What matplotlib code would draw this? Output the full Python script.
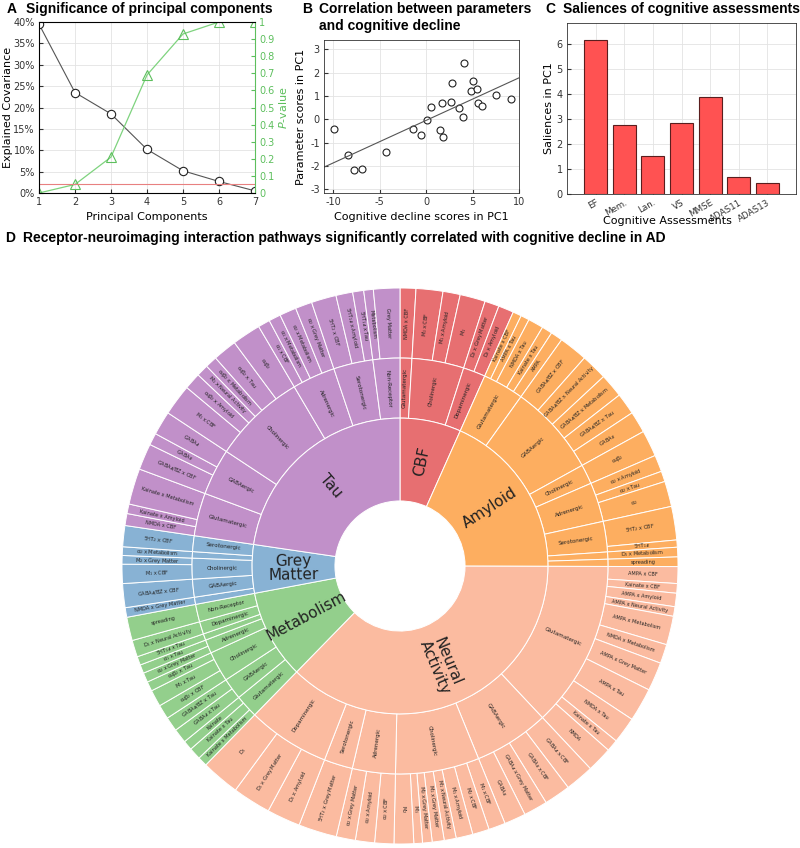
import numpy as np
import matplotlib.pyplot as plt
from matplotlib.patches import Wedge
from matplotlib.ticker import PercentFormatter

plt.rcParams['font.family'] = 'DejaVu Sans'
plt.rcParams['mathtext.fontset'] = 'dejavusans'
plt.rcParams['axes.unicode_minus'] = False

# ---- panel A data
pcs = [1, 2, 3, 4, 5, 6, 7]
expl_cov = [39.5, 23.5, 18.5, 10.2, 5.2, 2.7, 0.5]
p_values = [0.0, 0.05, 0.21, 0.69, 0.93, 1.0, 1.0]
p_thresh = 0.05

# ---- panel B data
cog_scores = [-9.9, -8.4, -7.75, -6.95, -4.35, -1.4, -0.55, 0.05, 0.55, 1.45, 1.7, 1.85,
              2.65, 2.8, 3.5, 3.95, 4.1, 4.85, 5.1, 5.5, 5.6, 6.0, 7.5, 9.1]
param_scores = [-0.41, -1.53, -2.16, -2.12, -1.39, -0.41, -0.68, -0.03, 0.52, -0.47, 0.71, -0.75,
                0.76, 1.57, 0.47, 0.1, 2.4, 1.2, 1.63, 1.3, 0.69, 0.59, 1.06, 0.88]

# ---- panel C data
assessments = ["EF", "Mem.", "Lan.", "VS", "MMSE", "ADAS11", "ADAS13"]
saliences = [6.15, 2.77, 1.53, 2.83, 3.88, 0.68, 0.44]

# ---- panel D data: (receptor system, pathway, weight), clockwise from 12 o'clock
modalities = ["CBF", "Amyloid", "Neural\nActivity", "Metabolism", "Grey\nMatter", "Tau"]
mod_colors = ["#E76F71", "#FDAE60", "#FBBBA0", "#93CF8C", "#88B2D4", "#C190C9"]

cbf_paths = [
    ("Glutamatergic", "NMDA x CBF", 3.3),
    ("Cholinergic", "M$_1$ x CBF", 5.6),
    ("Cholinergic", "M$_1$ x Amyloid", 3.6),
    ("Cholinergic", "M$_1$", 5.3),
    ("Dopaminergic", "D$_2$ x Grey Matter", 3.0),
    ("Dopaminergic", "D$_2$ x Amyloid", 3.2),
]
amyloid_paths = [
    ("Glutamatergic", "Kainate x CBF", 1.8),
    ("Glutamatergic", "AMPA x Tau", 1.8),
    ("Glutamatergic", "NMDA x Tau", 3.2),
    ("Glutamatergic", "Kainate x Tau", 2.2),
    ("Glutamatergic", "AMPA", 2.5),
    ("GABAergic", "GABA$_A$/BZ x CBF", 6.0),
    ("GABAergic", "GABA$_A$/BZ x Neural Activity", 5.5),
    ("GABAergic", "GABA$_A$/BZ x Metabolism", 5.0),
    ("GABAergic", "GABA$_A$/BZ x Tau", 4.5),
    ("GABAergic", "GABA$_B$", 4.5),
    ("Cholinergic", "α$_4$β$_2$", 5.5),
    ("Adrenergic", "α$_2$ x Amyloid", 3.5),
    ("Adrenergic", "α$_2$ x Tau", 2.2),
    ("Adrenergic", "α$_2$", 5.3),
    ("Serotonergic", "5HT$_2$ x CBF", 7.0),
    ("Serotonergic", "5HT$_{1A}$", 1.5),
    ("Dopaminergic", "D$_1$ x Metabolism", 2.0),
    ("Non-Receptor", "spreading", 2.0),
]
neural_paths = [
    ("Glutamatergic", "AMPA x CBF", 3.5),
    ("Glutamatergic", "Kainate x CBF", 2.0),
    ("Glutamatergic", "AMPA x Amyloid", 2.8),
    ("Glutamatergic", "AMPA x Neural Activity", 2.0),
    ("Glutamatergic", "AMPA x Metabolism", 6.0),
    ("Glutamatergic", "NMDA x Metabolism", 4.0),
    ("Glutamatergic", "AMPA x Grey Matter", 6.0),
    ("Glutamatergic", "AMPA x Tau", 7.0),
    ("Glutamatergic", "NMDA x Tau", 5.5),
    ("Glutamatergic", "Kainate x Tau", 2.5),
    ("Glutamatergic", "NMDA", 5.3),
    ("GABAergic", "GABA$_A$ x CBF", 6.0),
    ("GABAergic", "GABA$_B$ x CBF", 5.5),
    ("GABAergic", "GABA$_A$ x Grey Matter", 5.0),
    ("GABAergic", "GABA$_B$", 4.5),
    ("Cholinergic", "M$_1$ x CBF", 3.5),
    ("Cholinergic", "M$_2$ x CBF", 3.5),
    ("Cholinergic", "M$_1$ x Amyloid", 3.5),
    ("Cholinergic", "M$_1$ x Neural Activity", 2.5),
    ("Cholinergic", "M$_1$ x Grey Matter", 2.5),
    ("Cholinergic", "M$_2$ x Grey Matter", 2.0),
    ("Cholinergic", "M$_1$", 1.8),
    ("Cholinergic", "M$_2$", 4.1),
    ("Adrenergic", "α$_2$ x CBF", 4.0),
    ("Adrenergic", "α$_2$ x Amyloid", 4.0),
    ("Adrenergic", "α$_2$ x Grey Matter", 4.0),
    ("Serotonergic", "5HT$_2$ x Grey Matter", 8.0),
    ("Dopaminergic", "D$_1$ x Amyloid", 7.0),
    ("Dopaminergic", "D$_1$ x Grey Matter", 8.0),
    ("Dopaminergic", "D$_1$", 8.0),
]
metabolism_paths = [
    ("Glutamatergic", "Kainate x Metabolism", 2.0),
    ("Glutamatergic", "Kainate x Tau", 2.5),
    ("Glutamatergic", "Kainate", 2.0),
    ("GABAergic", "GABA$_A$ x Tau", 3.0),
    ("GABAergic", "GABA$_A$/BZ x Tau", 3.0),
    ("Cholinergic", "α$_4$β$_2$ x CBF", 3.0),
    ("Cholinergic", "M$_1$ x Tau", 3.5),
    ("Cholinergic", "α$_4$β$_2$ x Tau", 2.0),
    ("Adrenergic", "α$_2$ x Grey Matter", 2.0),
    ("Adrenergic", "α$_1$ x Tau", 1.8),
    ("Serotonergic", "5HT$_{1A}$ x Tau", 1.8),
    ("Dopaminergic", "D$_1$ x Neural Activity", 3.5),
    ("Non-Receptor", "spreading", 4.9),
]
grey_paths = [
    ("Glutamatergic", "NMDA x Grey Matter", 2.0),
    ("GABAergic", "GABA$_A$/BZ x CBF", 5.0),
    ("Cholinergic", "M$_1$ x CBF", 4.0),
    ("Cholinergic", "M$_2$ x Grey Matter", 1.8),
    ("Adrenergic", "α$_2$ x Metabolism", 1.8),
    ("Serotonergic", "5HT$_2$ x CBF", 4.4),
]
tau_paths = [
    ("Glutamatergic", "NMDA x CBF", 2.5),
    ("Glutamatergic", "Kainate x Amyloid", 2.0),
    ("Glutamatergic", "Kainate x Metabolism", 7.5),
    ("GABAergic", "GABA$_A$/BZ x CBF", 5.5),
    ("GABAergic", "GABA$_B$", 2.5),
    ("GABAergic", "GABA$_A$", 5.0),
    ("Cholinergic", "M$_1$ x CBF", 6.5),
    ("Cholinergic", "α$_4$β$_2$ x Amyloid", 3.5),
    ("Cholinergic", "M$_1$ x Neural Activity", 2.5),
    ("Cholinergic", "α$_4$β$_2$ x Metabolism", 2.5),
    ("Cholinergic", "α$_4$β$_2$ x Tau", 5.0),
    ("Cholinergic", "α$_4$β$_2$", 6.0),
    ("Adrenergic", "α$_1$ x CBF", 2.5),
    ("Adrenergic", "α$_1$ x Metabolism", 2.5),
    ("Adrenergic", "α$_2$ x Metabolism", 3.5),
    ("Adrenergic", "α$_2$ x Grey Matter", 3.5),
    ("Serotonergic", "5HT$_2$ x CBF", 5.2),
    ("Serotonergic", "5HT$_{1A}$ x Amyloid", 3.5),
    ("Serotonergic", "5HT$_{1A}$ x Tau", 2.3),
    ("Non-Receptor", "Metabolism", 2.0),
    ("Non-Receptor", "Grey Matter", 5.5),
]
all_paths = [cbf_paths, amyloid_paths, neural_paths, metabolism_paths, grey_paths, tau_paths]

fig = plt.figure(figsize=(8, 8.48), dpi=100)
W, H = 800, 848


def px_axes(x0, y0, x1, y1):
    return fig.add_axes([x0 / W, 1 - y1 / H, (x1 - x0) / W, (y1 - y0) / H])


def matlab_style(ax):
    ax.grid(True, color='#e3e3e3', lw=0.6)
    ax.set_axisbelow(True)
    ax.tick_params(direction='in', labelsize=7, colors='#333333', length=3, pad=3)
    for s in ax.spines.values():
        s.set_color('#333333')
        s.set_linewidth(0.6)


title_kw = dict(fontsize=10, fontweight='bold', family='Liberation Sans', va='top')

# ---------------- A
axA = px_axes(39, 22, 255, 193)
matlab_style(axA)
axA.plot(pcs, expl_cov, color='#555555', lw=0.8, marker='o', ms=6,
         mfc='white', mec='#222222', mew=0.8)
axA.set_xlim(1, 7)
axA.set_ylim(0, 40)
axA.set_xticks(pcs)
axA.set_yticks(np.arange(0, 41, 5))
axA.yaxis.set_major_formatter(PercentFormatter(decimals=0))
axA.set_xlabel("Principal Components", fontsize=8)
axA.xaxis.set_label_coords(0.5, -0.111)
axA.set_ylabel("Explained Covariance", fontsize=8)
axA.yaxis.set_label_coords(-0.12, 0.5)
axA2 = axA.twinx()
green = '#5DBF5D'
axA2.plot(pcs, p_values, color='#7ED37E', lw=0.9, marker='^', ms=7,
          mfc='none', mec=green, mew=0.8)
axA2.axhline(p_thresh, color='#E88080', lw=0.8)
axA2.set_ylim(0, 1)
axA2.set_yticks(np.arange(0, 1.01, 0.1))
axA2.set_yticklabels(["0"] + [f"{v:.1f}" for v in np.arange(0.1, 0.95, 0.1)] + ["1"])
axA2.tick_params(direction='in', labelsize=7, colors=green, length=3, pad=3)
axA2.spines['right'].set_color(green)
axA2.set_ylabel("$P$-value", color=green, fontsize=8)
axA2.yaxis.set_label_coords(1.10, 0.5)
fig.text(7 / W, 1 - 2 / H, "A", **title_kw)
fig.text(26 / W, 1 - 2 / H, "Significance of principal components", **title_kw)

# ---------------- B
axB = px_axes(324, 40, 519, 193)
matlab_style(axB)
axB.plot(cog_scores, param_scores, 'o', ms=5, mfc='white', mec='#222222', mew=0.8)
k, b = np.polyfit(cog_scores, param_scores, 1)
xs = np.array([-11, 10])
axB.plot(xs, k * xs + b, color='#555555', lw=0.8)
axB.set_xlim(-11, 10)
axB.set_ylim(-3.15, 3.4)
axB.set_xticks([-10, -5, 0, 5, 10])
axB.set_yticks(np.arange(-3, 4, 1))
axB.set_xlabel("Cognitive decline scores in PC1", fontsize=8)
axB.xaxis.set_label_coords(0.5, -0.124)
axB.set_ylabel("Parameter scores in PC1", fontsize=8)
axB.yaxis.set_label_coords(-0.09, 0.5)
fig.text(302 / W, 1 - 2 / H, "B", **title_kw)
fig.text(319 / W, 1 - 2 / H, "Correlation between parameters\nand cognitive decline",
         linespacing=1.25, **title_kw)

# ---------------- C
axC = px_axes(567, 23, 796, 194)
matlab_style(axC)
xc = np.arange(1, len(assessments) + 1)
axC.bar(xc, saliences, width=0.8, color='#FF5252', edgecolor='#5A1E1E', lw=0.8, zorder=3)
axC.set_xlim(0, 8)
axC.set_ylim(0, 6.85)
axC.set_xticks(xc)
axC.set_xticklabels(assessments, rotation=30, ha='right', rotation_mode='anchor')
axC.tick_params(axis='x', labelsize=6.3)
axC.set_yticks(range(0, 7))
axC.set_xlabel("Cognitive Assessments", fontsize=8)
axC.xaxis.set_label_coords(0.44, -0.13)
axC.set_ylabel("Saliences in PC1", fontsize=8)
axC.yaxis.set_label_coords(-0.058, 0.5)
fig.text(545 / W, 1 - 2 / H, "C", **title_kw)
fig.text(563 / W, 1 - 2 / H, "Saliences of cognitive assessments", **title_kw)

# ---------------- D sunburst
fig.text(5 / W, 1 - 231 / H, "D", **title_kw)
fig.text(23 / W, 1 - 231 / H,
         "Receptor-neuroimaging interaction pathways significantly correlated with cognitive decline in AD",
         **title_kw)
axD = px_axes(122, 288, 678, 844)
axD.set_xlim(-1, 1)
axD.set_ylim(-1, 1)
axD.set_aspect('equal')
axD.axis('off')

r0, r1, r2, r3 = 0.234, 0.532, 0.748, 1.0
total = sum(v for paths in all_paths for _, _, v in paths)
scale = 360.0 / total


def radial_rot(theta):
    a = (90 - theta + 180) % 360 - 180
    if a > 90:
        a -= 180
    elif a < -90:
        a += 180
    return a


def wedge(t0, t1, ri, ro, col):
    axD.add_patch(Wedge((0, 0), ro, 90 - t1, 90 - t0, width=ro - ri,
                        facecolor=col, edgecolor='white', lw=0.7))


def label(t0, t1, ri, ro, txt, fs):
    tm = np.radians((t0 + t1) / 2)
    rm = (ri + ro) / 2
    axD.text(rm * np.sin(tm), rm * np.cos(tm), txt, fontsize=fs,
             rotation=radial_rot(np.degrees(tm)), ha='center', va='center',
             rotation_mode='anchor', color='#222222', linespacing=0.95)


theta = 0.0
for mod, paths, col in zip(modalities, all_paths, mod_colors):
    m0 = theta
    groups = []
    for sys_, name, val in paths:
        if not groups or groups[-1][0] != sys_:
            groups.append([sys_, theta, theta])
        w = val * scale
        wedge(theta, theta + w, r2, r3, col)
        label(theta, theta + w, r2, r3, name, 3.6)
        theta += w
        groups[-1][2] = theta
    for sys_, g0, g1 in groups:
        wedge(g0, g1, r1, r2, col)
        if g1 - g0 >= 3.0:
            label(g0, g1, r1, r2, sys_, 4.1)
    wedge(m0, theta, r0, r1, col)
    label(m0, theta, r0, r1, mod, 11)

fig.savefig("out.png", dpi=100)
